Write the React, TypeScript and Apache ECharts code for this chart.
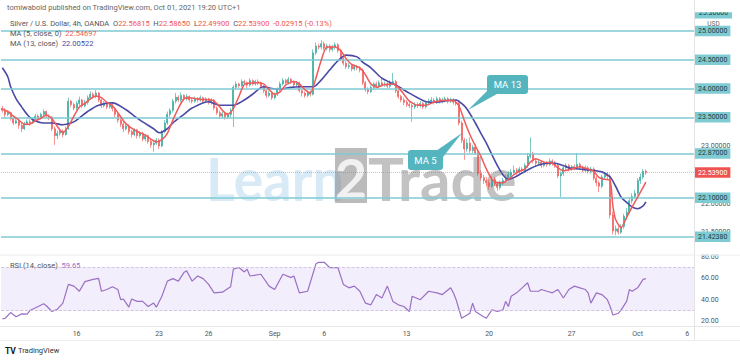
import React, { useEffect, useRef } from "react";
import * as echarts from "echarts";

// ---- data (4h candles, index = bar slot) ----
const firstOpen = 23.66;
const closes = [
  23.62, 23.55, 23.58, 23.48, 23.40, 23.44, 23.36, 23.30, 23.38, 23.42,
  23.40, 23.47, 23.52, 23.48, 23.55, 23.60, 23.52, 23.50, 23.30, 23.18,
  23.22, 23.26, 23.20, 23.30, 23.78, 23.72, 23.66, 23.74, 23.80, 23.70,
  23.76, 23.84, 23.90, 23.86, 23.92, 23.80, 23.70, 23.74, 23.68, 23.72,
  23.65, 23.55, 23.45, 23.38, 23.30, 23.35, 23.25, 23.20, 23.28, 23.18,
  23.22, 23.12, 23.18, 23.08, 23.02, 23.05, 23.10, 23.00, 23.25, 23.40,
  23.55, 23.62, 23.78, 23.85, 23.80, 23.88, 23.82, 23.86, 23.80, 23.78,
  23.82, 23.80, 23.84, 23.78, 23.82, 23.76, 23.80, 23.66, 23.58, 23.52,
  23.56, 23.50, 23.55, 23.62, 24.02, 24.08, 24.05, 24.12, 24.10, 24.06,
  24.14, 24.08, 24.12, 24.10, 24.04, 23.96, 23.88, 23.92, 23.84, 23.90,
  23.98, 24.08, 24.14, 24.10, 24.16, 24.12, 24.06, 24.10, 23.96, 23.92,
  23.88, 23.94, 23.90, 24.62, 24.74, 24.72, 24.78, 24.70, 24.74, 24.68,
  24.72, 24.76, 24.66, 24.52, 24.44, 24.38, 24.40, 24.34, 24.38, 24.36,
  24.32, 24.10, 23.98, 23.95, 24.02, 24.08, 24.04, 24.10, 24.06, 24.08,
  24.04, 24.10, 24.12, 23.96, 23.86, 23.80, 23.76, 23.72, 23.70, 23.68,
  23.72, 23.70, 23.74, 23.68, 23.75, 23.78, 23.80, 23.76, 23.82, 23.78,
  23.80, 23.82, 23.78, 23.80, 23.76, 23.74, 23.40, 23.10, 22.95, 23.05,
  22.92, 22.98, 22.88, 22.52, 22.45, 22.40, 22.36, 22.30, 22.42, 22.34,
  22.28, 22.36, 22.40, 22.44, 22.50, 22.54, 22.58, 22.55, 22.60, 22.58,
  22.66, 22.82, 22.86, 22.74, 22.70, 22.72, 22.66, 22.70, 22.68, 22.74,
  22.70, 22.66, 22.48, 22.52, 22.62, 22.66, 22.60, 22.64, 22.62, 22.68,
  22.62, 22.58, 22.62, 22.56, 22.60, 22.44, 22.36, 22.30, 22.46, 22.50,
  22.48, 21.80, 21.52, 21.56, 21.50, 21.60, 21.78, 21.85, 22.05, 22.12,
  22.18, 22.40, 22.46, 22.56, 22.54,
];
const highs = [
  23.70, 23.66, 23.62, 23.60, 23.50, 23.48, 23.46, 23.40, 23.42, 23.46,
  23.46, 23.50, 23.56, 23.55, 23.58, 23.64, 23.62, 23.55, 23.52, 23.34,
  23.27, 23.30, 23.29, 23.34, 23.84, 23.80, 23.75, 23.78, 23.86, 23.82,
  23.80, 23.88, 23.95, 23.93, 23.97, 23.94, 23.83, 23.78, 23.76, 23.76,
  23.75, 23.68, 23.58, 23.48, 23.42, 23.38, 23.38, 23.28, 23.31, 23.30,
  23.26, 23.25, 23.21, 23.20, 23.12, 23.09, 23.14, 23.13, 23.28, 23.45,
  23.60, 23.66, 23.82, 23.92, 23.88, 23.93, 23.90, 23.90, 23.88, 23.83,
  23.86, 23.85, 23.88, 23.86, 23.85, 23.84, 23.83, 23.82, 23.69, 23.62,
  23.60, 23.58, 23.58, 23.66, 24.06, 24.12, 24.10, 24.16, 24.15, 24.12,
  24.18, 24.16, 24.15, 24.16, 24.12, 24.06, 23.98, 23.96, 23.94, 23.93,
  24.02, 24.12, 24.18, 24.17, 24.20, 24.18, 24.14, 24.13, 24.12, 23.99,
  23.95, 23.97, 23.97, 24.68, 24.80, 24.78, 24.84, 24.82, 24.78, 24.77,
  24.76, 24.80, 24.79, 24.69, 24.56, 24.48, 24.44, 24.43, 24.42, 24.41,
  24.39, 24.35, 24.13, 24.02, 24.05, 24.11, 24.12, 24.14, 24.18, 24.12,
  24.11, 24.14, 24.27, 24.15, 23.99, 23.89, 23.84, 23.80, 23.76, 23.73,
  23.76, 23.76, 23.78, 23.77, 23.79, 23.82, 23.85, 23.83, 23.86, 23.85,
  23.84, 23.86, 23.85, 23.84, 23.83, 23.80, 23.77, 23.44, 23.14, 23.12,
  23.15, 23.02, 23.04, 22.92, 22.58, 22.50, 22.46, 22.42, 22.47, 22.46,
  22.38, 22.40, 22.45, 22.50, 22.56, 22.60, 22.66, 22.62, 22.64, 22.63,
  22.70, 22.88, 23.15, 22.90, 22.78, 22.76, 22.75, 22.74, 22.73, 22.78,
  22.77, 22.74, 22.69, 22.56, 22.66, 22.70, 22.69, 22.67, 22.68, 22.88,
  22.71, 22.66, 22.66, 22.65, 22.64, 22.63, 22.48, 22.40, 22.50, 22.54,
  22.55, 22.52, 21.86, 21.62, 21.62, 21.64, 21.82, 21.92, 22.10, 22.18,
  22.24, 22.44, 22.52, 22.60, 22.59,
];
const lows = [
  23.58, 23.50, 23.52, 23.44, 23.36, 23.38, 23.30, 23.24, 23.28, 23.36,
  23.35, 23.38, 23.44, 23.44, 23.46, 23.52, 23.48, 23.45, 23.26, 23.02,
  23.12, 23.18, 23.15, 23.18, 23.28, 23.68, 23.62, 23.62, 23.70, 23.66,
  23.67, 23.72, 23.80, 23.82, 23.83, 23.76, 23.66, 23.67, 23.64, 23.65,
  23.60, 23.50, 23.40, 23.33, 23.24, 23.27, 23.20, 23.15, 23.17, 23.13,
  23.14, 23.08, 23.08, 23.04, 22.97, 22.90, 23.02, 22.95, 22.98, 23.22,
  23.37, 23.50, 23.58, 23.74, 23.76, 23.77, 23.78, 23.79, 23.76, 23.74,
  23.75, 23.76, 23.77, 23.74, 23.75, 23.72, 23.72, 23.62, 23.54, 23.47,
  23.48, 23.46, 23.47, 23.50, 23.33, 23.98, 24.01, 24.02, 24.06, 24.01,
  24.03, 24.05, 24.05, 24.06, 24.00, 23.92, 23.83, 23.85, 23.80, 23.81,
  23.87, 23.95, 24.05, 24.06, 24.07, 24.08, 24.02, 24.03, 23.93, 23.86,
  23.84, 23.85, 23.86, 23.88, 24.58, 24.68, 24.68, 24.66, 24.66, 24.63,
  24.64, 24.68, 24.62, 24.48, 24.40, 24.34, 24.34, 24.30, 24.31, 24.32,
  24.28, 24.06, 23.94, 23.90, 23.92, 23.98, 24.00, 24.01, 24.03, 24.03,
  24.00, 24.01, 24.06, 23.92, 23.82, 23.76, 23.71, 23.68, 23.66, 23.42,
  23.64, 23.66, 23.67, 23.64, 23.65, 23.71, 23.74, 23.72, 23.73, 23.74,
  23.74, 23.76, 23.74, 23.75, 23.72, 23.70, 23.36, 23.05, 22.76, 22.90,
  22.88, 22.88, 22.84, 22.48, 22.40, 22.34, 22.30, 22.24, 22.27, 22.30,
  22.22, 22.24, 22.32, 22.36, 22.40, 22.46, 22.50, 22.50, 22.52, 22.54,
  22.54, 22.62, 22.78, 22.70, 22.64, 22.66, 22.62, 22.63, 22.64, 22.65,
  22.66, 22.62, 22.44, 22.11, 22.48, 22.58, 22.56, 22.57, 22.58, 22.59,
  22.58, 22.54, 22.55, 22.52, 22.52, 22.40, 22.30, 22.20, 22.27, 22.42,
  22.42, 21.74, 21.46, 21.45, 21.46, 21.47, 21.56, 21.72, 21.82, 22.00,
  22.08, 22.14, 22.34, 22.42, 22.50,
];

// MA (5, close) line: [bar index, price]
const ma5Points = [
  [0, 23.64], [2, 23.60], [4, 23.52], [6, 23.45], [8, 23.38], [10, 23.38], [12, 23.44], [14, 23.48],
  [16, 23.54], [18, 23.48], [20, 23.34], [22, 23.23], [24, 23.34], [26, 23.52], [28, 23.68], [30, 23.74],
  [32, 23.82], [34, 23.87], [36, 23.84], [38, 23.76], [40, 23.70], [42, 23.58], [44, 23.44], [46, 23.34],
  [48, 23.28], [50, 23.23], [52, 23.19], [54, 23.12], [56, 23.07], [58, 23.11], [60, 23.22], [62, 23.45],
  [64, 23.66], [66, 23.82], [68, 23.84], [72, 23.81], [76, 23.80], [78, 23.74], [80, 23.62], [82, 23.55],
  [84, 23.65], [86, 23.86], [88, 24.07], [92, 24.10], [95, 24.08], [97, 23.98], [99, 23.90], [101, 23.94],
  [103, 24.06], [106, 24.12], [108, 24.08], [110, 23.98], [112, 23.92], [114, 24.18], [116, 24.50], [118, 24.72],
  [121, 24.72], [123, 24.66], [125, 24.52], [127, 24.42], [130, 24.36], [132, 24.24], [134, 24.08], [136, 24.02],
  [139, 24.07], [142, 24.08], [144, 24.02], [146, 23.90], [148, 23.78], [151, 23.71], [154, 23.71], [157, 23.76],
  [160, 23.79], [164, 23.79], [166, 23.70], [168, 23.44], [170, 23.20], [172, 23.00], [174, 22.82], [176, 22.60],
  [178, 22.42], [180, 22.36], [182, 22.36], [184, 22.42], [186, 22.50], [188, 22.56], [190, 22.60], [192, 22.72],
  [194, 22.78], [197, 22.72], [200, 22.70], [202, 22.62], [204, 22.57], [207, 22.60], [210, 22.64], [213, 22.60],
  [215, 22.56], [217, 22.45], [219, 22.42], [221, 22.40], [222, 21.96], [223, 21.72], [225, 21.58], [227, 21.76],
  [229, 21.94], [231, 22.11], [234, 22.37],
];
// MA (13, close) line
const ma13Points = [
  [0, 24.36], [2, 24.20], [3, 24.03], [5, 23.82], [7, 23.68], [9, 23.55], [11, 23.46], [15, 23.40],
  [18, 23.40], [22, 23.37], [25, 23.40], [27, 23.45], [31, 23.60], [35, 23.71], [40, 23.75], [45, 23.63],
  [48, 23.52], [51, 23.42], [55, 23.30], [57, 23.23], [60, 23.30], [62, 23.40], [66, 23.55], [69, 23.66],
  [75, 23.77], [79, 23.71], [84, 23.71], [88, 23.80], [91, 23.90], [95, 24.03], [98, 24.00], [101, 23.99],
  [105, 24.02], [108, 24.03], [113, 24.03], [116, 24.15], [119, 24.32], [122, 24.48], [125, 24.58], [129, 24.55],
  [131, 24.46], [134, 24.36], [138, 24.18], [143, 24.06], [148, 23.92], [151, 23.84], [154, 23.77], [158, 23.76],
  [162, 23.79], [165, 23.80], [167, 23.74], [169, 23.64], [172, 23.40], [174, 23.22], [176, 23.05], [178, 22.85],
  [180, 22.66], [182, 22.50], [184, 22.42], [186, 22.45], [189, 22.53], [192, 22.61], [195, 22.67], [198, 22.70],
  [201, 22.70], [204, 22.66], [206, 22.62], [210, 22.60], [214, 22.58], [218, 22.55], [221, 22.46], [223, 22.30],
  [225, 22.11], [227, 22.02], [229, 21.94], [231, 21.91], [233, 21.96], [234, 22.03],
];
// RSI (14, close)
const rsiPoints = [
  [0, 22], [1, 22.6], [3, 27.9], [5, 24.1], [7, 26.7], [9, 26.4], [10, 29.8], [13, 33.6], [15, 36.2], [16, 34.3],
  [18, 28.9], [20, 31.1], [22, 36.8], [24, 54.3], [26, 52.7], [28, 47.9], [30, 56.9], [33, 59], [35, 60], [36, 47.9],
  [38, 49.5], [40, 52.1], [42, 49.5], [43, 40], [44, 40.6], [46, 33], [47, 40.6], [49, 38.4], [51, 38.4], [53, 33.6],
  [55, 36.8], [56, 33], [58, 43.2], [60, 57.4], [62, 59.7], [64, 57.4], [66, 65.4], [67, 67], [68, 62.2], [69, 57.4],
  [71, 62.2], [73, 59.7], [75, 54.3], [77, 46.4], [80, 47], [83, 52.1], [84, 68.6], [86, 70.1], [88, 66], [89, 68.6],
  [90, 62.2], [94, 63.8], [97, 52.7], [99, 49.5], [102, 63.8], [105, 60.7], [106, 62.2], [108, 46.4], [111, 47.9],
  [114, 73.3], [115, 75], [117, 75], [119, 70.1], [122, 70.1], [124, 54.3], [126, 51.1], [128, 52.7], [130, 47.9],
  [132, 36.8], [134, 35.2], [136, 44.8], [138, 41.6], [140, 52.7], [142, 38.4], [144, 35.2], [146, 33.6], [148, 28.9],
  [149, 43.2], [152, 40], [155, 47.9], [158, 46.4], [160, 44.8], [163, 51.1], [164, 46.4], [165, 40], [167, 22.6],
  [170, 27.3], [171, 36.8], [172, 28.9], [175, 24.1], [176, 22.6], [178, 30.5], [180, 28.9], [182, 30.5], [183, 38.4],
  [184, 33.6], [185, 43.2], [187, 46.4], [189, 51.1], [191, 55.9], [192, 47.9], [195, 47.9], [196, 49.5], [198, 47.9],
  [200, 46.4], [202, 49.5], [204, 41.6], [206, 49.5], [208, 52.7], [210, 51.1], [212, 49.5], [213, 46.4], [214, 36.8],
  [216, 46.4], [218, 44.8], [220, 40], [221, 33.6], [222, 25.7], [224, 27.3], [225, 30.5], [227, 38.4], [228, 49.5],
  [229, 47.9], [231, 51.1], [233, 59], [234, 59.65],
];

const levels = [25.0, 24.5, 24.0, 23.5, 22.87, 22.1, 21.4238];
const lastPrice = 22.539;
const tickLabels = ["16", "23", "26", "Sep", "6", "13", "20", "27", "Oct", "6"];
const tickIndices = [27, 57, 75, 99, 117, 147, 177, 207, 231, 249];
const priceLabelsShown = [23.0, 22.0, 21.5];
const totalSlots = 252;

const FONT = 'Roboto, "Noto Sans", sans-serif';
const UP = "#26a69a";
const DOWN = "#ef5350";
const TEAL = "#7ecbd3";
const MA5C = "#f05a5a";
const MA13C = "#4a4aa6";
const RSIC = "#9a70c4";
const HF = 7.5;

export default function App() {
  const ref = useRef<HTMLDivElement>(null);
  useEffect(() => {
    if (!ref.current) return;
    const chart = echarts.init(ref.current, null, { renderer: "svg" });
    const cats = Array.from({ length: totalSlots }, (_, i) => String(i));
    const candles = closes.map((c, i) => {
      const o = i === 0 ? firstOpen : closes[i - 1];
      return [o, c, Math.min(lows[i], o, c), Math.max(highs[i], o, c)];
    });
    const tickFmt = (v: string) => {
      const k = tickIndices.indexOf(Number(v));
      return k >= 0 ? tickLabels[k] : "";
    };
    const levelData: any[] = levels.map((v) => ({ yAxis: v, name: v.toFixed(5) }));
    levelData.push({
      yAxis: lastPrice,
      name: lastPrice.toFixed(5),
      lineStyle: { color: "rgba(239,83,80,0.45)", type: "dotted", width: 1 },
      label: { backgroundColor: DOWN, color: "#ffffff" },
    });

    const txt = (x: number, y: number, text: string, extra: any = {}, z = 30) => ({
      type: "text",
      x,
      y,
      z,
      silent: true,
      style: Object.assign(
        { text, fontSize: HF, fontFamily: FONT, fill: "#555", verticalAlign: "middle", textVerticalAlign: "middle" },
        extra
      ),
    });
    const richTxt = (x: number, y: number, label: string, value: string, color: string) => ({
      type: "text",
      x,
      y,
      z: 30,
      silent: true,
      style: {
        text: "{g|" + label + "}{r|" + value + "}",
        fontSize: HF,
        fontFamily: FONT,
        verticalAlign: "middle",
        textVerticalAlign: "middle",
        rich: {
          g: { fill: "#555", color: "#555", fontSize: HF, fontFamily: FONT },
          r: { fill: color, color: color, fontSize: HF, fontFamily: FONT },
        },
      },
    });

    chart.setOption({
      animation: false,
      backgroundColor: "#ffffff",
      grid: [
        { left: 1, right: 46, top: 2.25, height: 258.75 },
        { left: 1, right: 46, top: 235.6, height: 106.8 },
      ],
      xAxis: [
        { type: "category", gridIndex: 0, data: cats, boundaryGap: true, show: false },
        {
          type: "category",
          gridIndex: 1,
          data: cats,
          boundaryGap: true,
          offset: -15.4,
          axisLine: { show: false },
          axisTick: { show: false },
          splitLine: { show: false },
          axisLabel: {
            interval: (i: number) => tickIndices.indexOf(i) >= 0,
            formatter: tickFmt,
            fontSize: 7,
            color: "#555",
            fontFamily: FONT,
            margin: 3,
          },
        },
      ],
      yAxis: [
        {
          type: "value",
          gridIndex: 0,
          position: "right",
          min: 21,
          max: 25.5,
          interval: 0.5,
          axisLine: { show: false },
          axisTick: { show: false },
          splitLine: { show: false },
          axisLabel: {
            formatter: (v: number) => (priceLabelsShown.indexOf(v) >= 0 ? v.toFixed(5) : ""),
            fontSize: 7,
            color: "#555",
            fontFamily: FONT,
            margin: 7,
          },
        },
        {
          type: "value",
          gridIndex: 1,
          position: "right",
          min: 0,
          max: 100,
          interval: 20,
          axisLine: { show: false },
          axisTick: { show: false },
          splitLine: { show: false },
          axisLabel: {
            formatter: (v: number) => (v === 0 || v === 100 ? "" : v.toFixed(2)),
            fontSize: 7,
            color: "#555",
            fontFamily: FONT,
            margin: 7,
          },
        },
      ],
      series: [
        {
          type: "candlestick",
          xAxisIndex: 0,
          yAxisIndex: 0,
          data: candles,
          barWidth: 1.5,
          z: 3,
          itemStyle: { color: UP, color0: DOWN, borderColor: UP, borderColor0: DOWN, borderWidth: 0.6 },
          markLine: {
            silent: true,
            symbol: ["none", "none"],
            precision: 5,
            lineStyle: { color: TEAL, width: 1.6, type: "solid" },
            label: {
              show: true,
              position: "end",
              distance: 1,
              formatter: (p: any) => p.name,
              backgroundColor: TEAL,
              color: "#1d3b40",
              fontSize: 7,
              fontFamily: FONT,
              padding: [2, 3, 1.5, 3],
            },
            data: levelData,
          },
        },
        {
          type: "line",
          xAxisIndex: 0,
          yAxisIndex: 0,
          data: ma13Points,
          showSymbol: false,
          smooth: 0.3,
          z: 4,
          lineStyle: { color: MA13C, width: 1.6 },
        },
        {
          type: "line",
          xAxisIndex: 0,
          yAxisIndex: 0,
          data: ma5Points,
          showSymbol: false,
          smooth: 0.2,
          z: 5,
          lineStyle: { color: MA5C, width: 1.5 },
        },
        {
          type: "line",
          xAxisIndex: 1,
          yAxisIndex: 1,
          data: rsiPoints,
          showSymbol: false,
          z: 4,
          lineStyle: { color: RSIC, width: 1.2 },
          markArea: {
            silent: true,
            itemStyle: { color: "rgba(150,100,215,0.11)" },
            data: [[{ yAxis: 30 }, { yAxis: 70 }]],
          },
          markLine: {
            silent: true,
            symbol: ["none", "none"],
            label: { show: false },
            lineStyle: { color: "#c6b6da", type: "dashed", width: 0.8 },
            data: [{ yAxis: 70 }, { yAxis: 30 }],
          },
        },
      ],
      graphic: [
        // frame lines
        { type: "line", z: 1, silent: true, shape: { x1: 694.5, y1: 0, x2: 694.5, y2: 340 }, style: { stroke: "#e4e4e4", lineWidth: 1 } },
        { type: "line", z: 1, silent: true, shape: { x1: 0, y1: 255, x2: 740, y2: 255 }, style: { stroke: "#ececec", lineWidth: 1 } },
        { type: "line", z: 1, silent: true, shape: { x1: 0, y1: 326.5, x2: 740, y2: 326.5 }, style: { stroke: "#e6e6e6", lineWidth: 1 } },
        { type: "line", z: 1, silent: true, shape: { x1: 0, y1: 340.5, x2: 740, y2: 340.5 }, style: { stroke: "#ededed", lineWidth: 1 } },
        // watermark
        { type: "text", x: 206, y: 178, z: 1, silent: true, scaleX: 0.93, style: { text: "Learn", fontSize: 60, fontWeight: "bold", fontFamily: "Lato, sans-serif", fill: "rgba(140,195,230,0.35)", verticalAlign: "middle", textVerticalAlign: "middle" } },
        { type: "rect", z: 1, silent: true, shape: { x: 335, y: 148, width: 32, height: 55 }, style: { fill: "rgba(120,120,120,0.5)" } },
        { type: "text", x: 351, y: 177, z: 1, silent: true, style: { text: "2", fontSize: 56, fontWeight: "bold", fontFamily: "Lato, sans-serif", fill: "rgba(255,255,255,0.8)", align: "center", textAlign: "center", verticalAlign: "middle", textVerticalAlign: "middle" } },
        { type: "text", x: 368, y: 178, z: 1, silent: true, style: { text: "Trade", fontSize: 60, fontWeight: "bold", fontFamily: "Lato, sans-serif", fill: "rgba(110,110,110,0.42)", verticalAlign: "middle", textVerticalAlign: "middle" } },
        // callouts
        { type: "polygon", z: 40, silent: true, shape: { points: [[489, 89], [497, 94], [468, 110]] }, style: { fill: "#55b5bf" } },
        { type: "rect", z: 40, silent: true, shape: { x: 487, y: 75, width: 41, height: 19, r: 3 }, style: { fill: "#55b5bf" } },
        txt(507.5, 84.5, "MA 13", { fontSize: 9.5, fill: "#ffffff", align: "center", textAlign: "center" }, 41),
        { type: "polygon", z: 40, silent: true, shape: { points: [[436, 151], [443, 157], [462, 133]] }, style: { fill: "#55b5bf" } },
        { type: "rect", z: 40, silent: true, shape: { x: 408, y: 150, width: 35, height: 20, r: 3 }, style: { fill: "#55b5bf" } },
        txt(425.5, 160, "MA 5", { fontSize: 9.5, fill: "#ffffff", align: "center", textAlign: "center" }, 41),
        // price-axis extras
        { type: "rect", z: 20, silent: true, shape: { x: 695, y: 8, width: 37, height: 10.5 }, style: { fill: TEAL } },
        txt(713.5, 13.4, "25.30000", { fontSize: 7, fill: "#1d3b40", align: "center", textAlign: "center" }, 21),
        { type: "rect", z: 22, silent: true, shape: { x: 695, y: 0, width: 45, height: 12.2 }, style: { fill: "#ffffff" } },
        txt(713.5, 23.5, "USD", { fontSize: 6.5, fill: "#666", align: "center", textAlign: "center" }, 23),
        { type: "rect", z: 22, silent: true, shape: { x: 695, y: 244, width: 45, height: 10.5 }, style: { fill: "#ffffff" } },
        // header
        txt(7, 7.5, "tomiwabold published on TradingView.com, Oct 01, 2021 19:20 UTC+1", { fill: "#666" }),
        {
          type: "text",
          x: 10,
          y: 23.5,
          z: 30,
          silent: true,
          style: {
            text: "{g|Silver / U.S. Dollar, 4h, OANDA  O}{r|22.56815}{g|  H}{r|22.58650}{g|  L}{r|22.49900}{g|  C}{r|22.53900}{r|  -0.02915 (-0.13%)}",
            fontSize: HF,
            fontFamily: FONT,
            verticalAlign: "middle",
            textVerticalAlign: "middle",
            rich: {
              g: { fill: "#555", color: "#555", fontSize: HF, fontFamily: FONT },
              r: { fill: DOWN, color: DOWN, fontSize: HF, fontFamily: FONT },
            },
          },
        },
        richTxt(10, 33, "MA (5, close, 0)  ", "22.54697", MA5C),
        richTxt(10, 43, "MA (13, close)  ", "22.00522", MA13C),
        richTxt(10, 265, "RSI (14, close)  ", "59.65", RSIC),
        // footer logo
        txt(5, 350.5, "TV", { fontSize: 8.5, fontWeight: "bold", fill: "#131722" }),
        txt(18, 350.5, "TradingView", { fontSize: 7.5, fill: "#333" }),
      ],
    });
    return () => chart.dispose();
  }, []);
  return <div ref={ref} style={{ width: 740, height: 361, position: "absolute", left: 0, top: 0 }} />;
}
